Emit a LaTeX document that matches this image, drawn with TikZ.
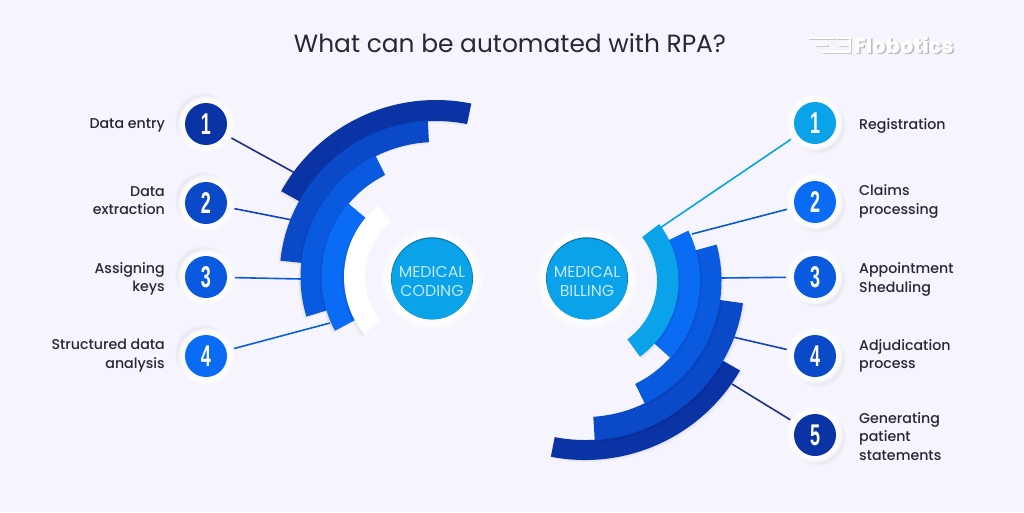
\documentclass[tikz,border=0pt]{standalone}
\usepackage{fontspec}
\setmainfont{Poppins Medium}
\newfontfamily\regfont{Poppins}
\newfontfamily\numfont{Liberation Sans}
\usetikzlibrary{calc}
\definecolor{bgc}{HTML}{F6F5FD}
\definecolor{ca}{HTML}{0A33A5}
\definecolor{cb}{HTML}{0A49C8}
\definecolor{cc}{HTML}{0A5AE0}
\definecolor{cd}{HTML}{0A6BF4}
\definecolor{ce}{HTML}{0AA2E8}
\definecolor{txt}{HTML}{262833}
\definecolor{navy}{HTML}{1B2F86}
\newcommand{\sectorpath}[6]{($(#1,#2)+(#5:#4)$) arc[start angle=#5,end angle=#6,radius=#4] -- ($(#1,#2)+(#6:#3)$) arc[start angle=#6,end angle=#5,radius=#3] -- cycle}
% cx cy r1 r2 a1 a2 colour, shadow offset dx
\newcommand{\sector}[8]{%
  \foreach \k in {1,2,3}{\fill[black,opacity=.025,shift={(#8*\k*0.8,-\k*0.8)}] \sectorpath{#1}{#2}{#3}{#4}{#5}{#6};}
  \fill[#7] \sectorpath{#1}{#2}{#3}{#4}{#5}{#6};}
\newcommand{\halo}[3]{% x y shadow direction
  \foreach \k in {1,...,5}{\fill[black,opacity=.018] (#1+#3*\k*0.7,#2-#3*\k*0.7) circle[radius=24+\k*0.7];}
  \foreach \k in {28,27,26,25,24}{\fill[white,opacity=.45] (#1,#2) circle[radius=\k];}}
\tikzset{
  x=1pt,y=1pt,
  badge/.style={circle,fill=#1,minimum size=42pt,inner sep=0pt,outer sep=8pt,text=white,font=\numfont\bfseries\fontsize{30}{30}\selectfont},
  lbl/.style={font=\fontsize{14.2}{18.2}\selectfont,text=txt,inner sep=0pt},
  lblr/.style={lbl,align=right,anchor=east},
  lbll/.style={lbl,align=left,anchor=west},
  hub/.style={circle,fill=ce,minimum size=81pt,inner sep=0pt},
  hubtext/.style={text=white!75!ce,align=center,font=\regfont\fontsize{15.8}{18.5}\selectfont,inner sep=0pt},
  link/.style={line width=1.6pt}
}
\newcommand{\dig}[1]{\scalebox{.6}[1]{#1}}
\begin{document}
\begin{tikzpicture}
\useasboundingbox (0,0) rectangle (1024,-512);
\fill[bgc] (0,0) rectangle (1024,-512);
% title
\node[font=\regfont\fontsize{24.9}{28}\selectfont,text=txt,inner sep=0pt] (title) at (510,-43) {What can be automated with RPA?};
% logo
\node[font=\bfseries\fontsize{21}{24}\selectfont,text=black!28,inner sep=0pt,anchor=west] (logoshadow) at (855.5,-46) {Flobotics};
\node[font=\bfseries\fontsize{21}{24}\selectfont,text=white,inner sep=0pt,anchor=west] (logo) at (854,-45) {Flobotics};
\draw[black!22,line width=2.4pt,line join=round,xshift=1pt,yshift=-1pt] (808,-38) -- (835,-38) (815,-45) -- (828,-45) (822,-52) -- (836,-52) (836,-38) -- (850,-38) -- (850,-52) -- (836,-52) (838,-45) -- (850,-45);
\draw[white,line width=2.4pt,line join=round] (808,-38) -- (835,-38) (815,-45) -- (828,-45) (822,-52) -- (836,-52) (836,-38) -- (850,-38) -- (850,-52) -- (836,-52) (838,-45) -- (850,-45);
% left fan
\sector{436}{-277}{156}{177}{78.5}{151}{ca}{-1}
\sector{436}{-277}{135}{156.5}{93}{174}{cb}{-1}
\sector{436}{-277}{114}{135.5}{116.5}{197}{cc}{-1}
\sector{436}{-277}{91}{114.5}{140}{208}{cd}{-1}
\sector{436}{-277}{71}{92}{129}{218.5}{white}{-1}
% right fan
\sector{585}{-281}{159}{179}{-101}{-30}{ca}{1}
\sector{585}{-281}{136}{159.5}{-86.5}{-8}{cb}{1}
\sector{585}{-281}{114.5}{136.5}{-64}{15.5}{cc}{1}
\sector{585}{-281}{93}{115}{-42}{26}{cd}{1}
\sector{585}{-281}{72}{93.5}{-54}{37.5}{ce}{1}
% hubs
\foreach \r in {50,48,46,44}{\fill[white,opacity=.4] (432,-279) circle[radius=\r];\fill[white,opacity=.4] (587,-279) circle[radius=\r];}
\fill[ce!70!black] (432,-278.3) circle[radius=41];
\fill[ce!70!black] (587,-278.3) circle[radius=41];
\node[hub] (hubl) at (432,-279) {};
\node[hub] (hubr) at (587,-279) {};
\node[hubtext] (tl) at (432,-281.5) {MEDICAL\\CODING};
\node[hubtext] (tr) at (587,-281.5) {MEDICAL\\BILLING};
% halos
\halo{206}{-124}{-1}\halo{206}{-203}{-1}\halo{206}{-277}{-1}\halo{206}{-356}{-1}
\halo{815}{-123}{1}\halo{815}{-202}{1}\halo{815}{-277}{1}\halo{815}{-356}{1}\halo{815}{-435}{1}
% badges
\node[badge=ca] (l1) at (206,-124) {\dig{1}};
\node[badge=cb] (l2) at (206,-203) {\dig{2}};
\node[badge=cc] (l3) at (206,-277) {\dig{3}};
\node[badge=cd] (l4) at (206,-356) {\dig{4}};
\node[badge=ce] (r1) at (815,-123) {\dig{1}};
\node[badge=cd] (r2) at (815,-202) {\dig{2}};
\node[badge=cc] (r3) at (815,-277) {\dig{3}};
\node[badge=cb] (r4) at (815,-356) {\dig{4}};
\node[badge=ca] (r5) at (815,-435) {\dig{5}};
% connector ends
\coordinate (el1) at (295,-173);
\coordinate (el2) at (292,-220);
\coordinate (el3) at (301,-279);
\coordinate (el4) at (330,-323);
\coordinate (er1) at (660,-228);
\coordinate (er2) at (692,-234);
\coordinate (er3) at (720,-278);
\coordinate (er4) at (733,-337);
\coordinate (er5) at (732,-384);
\draw[link,navy] (l1) -- (el1);
\draw[link,cb!85!navy] (l2) -- (el2);
\draw[link,cc] (l3) -- (el3);
\draw[link,cd!90!black] (l4) -- (el4);
\draw[link,ce] (r1) -- (er1);
\draw[link,cd!85!black] (r2) -- (er2);
\draw[link,cc] (r3) -- (er3);
\draw[link,cb!85!navy] (r4) -- (er4);
\draw[link,navy] (r5) -- (er5);
% labels
\node[lblr] (tl1) at (165,-125.5) {Data entry};
\node[lblr] (tl2) at (165,-200.8) {Data\\extraction};
\node[lblr] (tl3) at (165,-278.5) {Assigning\\keys};
\node[lblr] (tl4) at (165,-355.5) {Structured data\\analysis};
\node[lbll] (tr1) at (859,-125.5) {Registration};
\node[lbll] (tr2) at (859,-201.5) {Claims\\processing};
\node[lbll] (tr3) at (859,-279.5) {Appointment\\Sheduling};
\node[lbll] (tr4) at (859,-355.5) {Adjudication\\process};
\node[lbll] (tr5) at (859,-436.5) {Generating\\patient\\statements};
\end{tikzpicture}
\end{document}
